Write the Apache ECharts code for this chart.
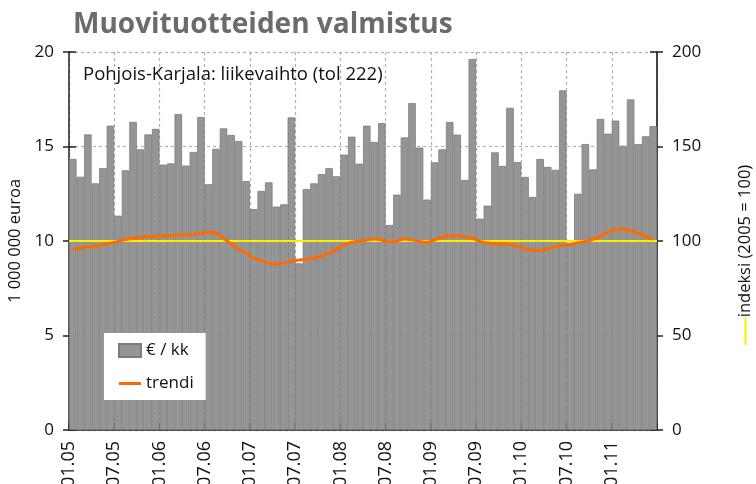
<!DOCTYPE html>
<html>
<head>
<meta charset="utf-8">
<script src="https://cdn.jsdelivr.net/npm/echarts@6/dist/echarts.min.js"></script>
<style>
    html, body {
        margin: 0;
        padding: 0;
        background: #fff;
    }

    #chart {
        width: 756px;
        height: 484px;
    }
</style>
</head>
<body>
<div id="chart"></div>
<script>
// liikevaihto, milj. euroa / kk (01.2005 - 06.2011)
const SALES = [
    14.34, 13.40, 15.64, 13.05, 13.86, 16.10, 11.34, 13.74, 16.30, 14.85, 15.64, 15.93,
    14.04, 14.11, 16.72, 13.99, 14.71, 16.56, 13.00, 14.88, 15.96, 15.61, 15.29, 13.17,
    11.69, 12.65, 13.10, 11.82, 11.94, 16.54, 8.82, 12.75, 13.05, 13.54, 13.86, 13.42,
    14.57, 15.52, 14.09, 16.10, 15.24, 16.24, 10.85, 12.45, 15.48, 17.30, 14.94, 12.19,
    14.16, 14.85, 16.30, 15.63, 13.23, 19.63, 11.18, 11.87, 14.69, 13.97, 17.05, 14.18,
    13.39, 12.33, 14.34, 13.92, 13.77, 17.97, 9.90, 12.50, 15.13, 13.79, 16.46, 15.68,
    16.37, 15.04, 17.49, 15.13, 15.54, 16.08
]

// trendi, indeksi (2005 = 100)
const TREND = [
    95.5, 96.2, 96.8, 97.3, 97.9, 98.8, 99.8, 100.8, 101.5, 102.0, 102.3, 102.6,
    102.7, 102.9, 103.1, 103.3, 103.5, 104.0, 104.6, 104.1, 101.5, 98.5, 95.8, 93.5,
    91.0, 89.5, 88.3, 87.8, 88.3, 89.4, 89.9, 90.4, 91.0, 92.0, 93.8, 95.4,
    98.0, 99.2, 100.0, 100.5, 101.0, 100.4, 99.6, 100.1, 101.0, 100.6, 99.8, 99.3,
    100.6, 102.0, 102.8, 102.8, 102.4, 101.5, 99.8, 98.9, 98.5, 98.3, 98.2, 97.2,
    96.0, 95.0, 95.0, 95.8, 97.0, 97.8, 98.2, 99.0, 99.8, 100.9, 102.6, 104.6,
    106.0, 106.2, 105.4, 104.1, 102.6, 100.9
]

const INDEX_BASE = 100

const TICK_LABELS = [
    '01.05', '07.05', '01.06', '07.06', '01.07', '07.07', '01.08',
    '07.08', '01.09', '07.09', '01.10', '07.10', '01.11'
]

// kuukaudet kategoria-akselille
const MONTHS = []
for (let y = 5; y <= 11; y++) {
    for (let m = 1; m <= 12; m++) {
        if (MONTHS.length < SALES.length) {
            MONTHS.push(String(m).padStart(2, '0') + '.' + String(y).padStart(2, '0'))
        }
    }
}

const FONT = 'Open Sans'
const gridLine = {
    show: true,
    lineStyle: {color: '#b0b0b0', type: [3, 3], width: 1.2}
}

const chart = echarts.init(document.getElementById('chart'), null, {renderer: 'canvas'})

const option = {
    animation: false,
    textStyle: {fontFamily: FONT},
    title: [
        {
            text: 'Muovituotteiden valmistus',
            left: 68,
            top: 6,
            textStyle: {fontFamily: FONT, fontSize: 28, fontWeight: 'bold', color: '#6b6b6b'}
        },
        {
            text: 'Pohjois-Karjala: liikevaihto (tol 222)',
            left: 78,
            top: 60,
            textStyle: {fontFamily: FONT, fontSize: 18.5, fontWeight: 'normal', color: '#111'}
        }
    ],
    legend: {
        orient: 'vertical',
        left: 104,
        top: 333,
        padding: [9, 12, 8, 14],
        backgroundColor: '#fff',
        itemWidth: 22,
        itemHeight: 13,
        itemGap: 16,
        textStyle: {fontFamily: FONT, fontSize: 17, color: '#111'},
        data: [
            {name: '€ / kk', icon: 'rect'},
            {name: 'trendi', icon: 'path://M0,0 L22,0 L22,3 L0,3 Z'}
        ]
    },
    grid: {
        left: 69,
        right: 99,
        top: 52,
        bottom: 54,
        outerBoundsMode: 'none'
    },
    xAxis: [
        {
            type: 'category',
            data: MONTHS,
            boundaryGap: true,
            show: false
        },
        {
            type: 'value',
            min: 0,
            max: MONTHS.length,
            interval: 6,
            position: 'bottom',
            axisLine: {show: true, lineStyle: {color: '#222', width: 1.5}},
            axisTick: {show: true, inside: true, length: 7, lineStyle: {color: '#222', width: 1.5}},
            axisLabel: {
                rotate: 90,
                margin: 11,
                padding: [9, 0, 0, 0],
                fontSize: 18,
                color: '#111',
                fontFamily: FONT,
                formatter: v => TICK_LABELS[v / 6] || ''
            },
            splitLine: gridLine
        }
    ],
    yAxis: [
        {
            type: 'value',
            position: 'left',
            min: 0,
            max: 20,
            interval: 5,
            name: '1 000 000 euroa',
            nameLocation: 'middle',
            nameGap: 42,
            nameTextStyle: {fontFamily: FONT, fontSize: 16.5, color: '#111'},
            axisLine: {show: true, lineStyle: {color: '#222', width: 1.5}},
            axisTick: {show: true, length: 6, lineStyle: {color: '#222', width: 1.5}},
            axisLabel: {margin: 15, fontSize: 17, color: '#111', fontFamily: FONT},
            splitLine: gridLine
        },
        {
            type: 'value',
            position: 'right',
            min: 0,
            max: 200,
            interval: 50,
            name: '{l|}indeksi (2005 = 100)',
            nameLocation: 'middle',
            nameGap: 80,
            nameRotate: 90,
            nameTextStyle: {
                fontFamily: FONT,
                fontSize: 16.5,
                color: '#111',
                padding: [0, 28, 0, 0],
                rich: {
                    l: {width: 28, height: 2, backgroundColor: '#ffee00', verticalAlign: 'middle'}
                }
            },
            axisLine: {show: true, lineStyle: {color: '#444', width: 2}},
            axisTick: {show: true, length: 6, lineStyle: {color: '#222', width: 1.5}},
            axisLabel: {margin: 15, fontSize: 17, color: '#111', fontFamily: FONT},
            splitLine: {show: false}
        },
        {
            // sisäpuoliset tikit vasemmalle
            type: 'value',
            position: 'left',
            min: 0,
            max: 20,
            interval: 5,
            axisLine: {show: false},
            axisTick: {show: true, inside: true, length: 7, lineStyle: {color: '#222', width: 1.5}},
            axisLabel: {show: false},
            splitLine: {show: false}
        },
        {
            type: 'value',
            position: 'right',
            min: 0,
            max: 200,
            interval: 50,
            axisLine: {show: false},
            axisTick: {show: true, inside: true, length: 7, lineStyle: {color: '#222', width: 1.5}},
            axisLabel: {show: false},
            splitLine: {show: false}
        }
    ],
    series: [
        {
            name: '€ / kk',
            type: 'bar',
            xAxisIndex: 0,
            yAxisIndex: 0,
            barCategoryGap: '0%',
            itemStyle: {color: '#959595', borderColor: '#7c7c7c', borderWidth: 0.8},
            data: SALES
        },
        {
            name: 'trendi',
            type: 'line',
            xAxisIndex: 0,
            yAxisIndex: 1,
            smooth: true,
            symbol: 'none',
            lineStyle: {color: '#ff6a00', width: 3},
            itemStyle: {color: '#ff6a00'},
            data: TREND,
            z: 4,
            markLine: {
                silent: true,
                symbol: 'none',
                label: {show: false},
                lineStyle: {color: '#ffee00', width: 2, type: 'solid'},
                data: [{yAxis: INDEX_BASE}],
                z: 3
            }
        }
    ]
}

chart.setOption(option)
</script>
</body>
</html>
